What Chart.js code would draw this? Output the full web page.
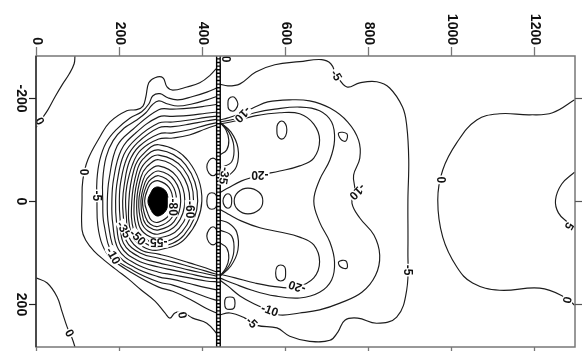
<!DOCTYPE html>
<html>
<head>
<meta charset="utf-8">
<script src="https://cdn.jsdelivr.net/npm/chart.js@4.4.0/dist/chart.umd.min.js"></script>
<style>
  html, body { margin: 0; padding: 0; background: #fff; }
  canvas { display: block; }
</style>
</head>
<body>
<canvas id="contour-chart" width="582" height="351"></canvas>
<script>
// axis ticks
const xTicks = [0, 200, 400, 600, 800, 1000, 1200];
const yTicks = [-200, 0, 200];

// hatched barrier line
const barrierX = 440;
const barrierY = [-281, 283];

// contour lines as [x, y]
const zeroUpperLeft = [[94,-281],[92,-266],[80,-246],[63,-225],[46,-202],[29,-177],[14,-159],[0,-142]];
const zeroLowerLeft = [[0,149],[27,159],[51,186],[63,215],[75,244],[87,266],[94,283]];

const sink0 = [[441,-262],[419,-243],[395,-229],[364,-221],[330,-215],[316,-221],[306,-239],[287,-239],[272,-229],[265,-202],[258,-184],[243,-177],[219,-175],[178,-153],[154,-124],[125,-80],[113,-41],[111,0],[111,56],[120,76],[140,97],[168,117],[195,134],[224,152],[253,172],[287,194],[311,217],[323,227],[335,217],[352,215],[378,227],[412,237],[439,260]];
const sink5 = [[441,-221],[412,-211],[376,-202],[342,-196],[318,-200],[299,-208],[282,-204],[272,-188],[255,-173],[227,-161],[193,-138],[169,-113],[154,-80],[147,-41],[147,0],[149,47],[160,85],[181,111],[233,140],[296,167],[330,175],[370,190],[410,208],[441,219]];
const sink10 = [[441,-204],[412,-196],[376,-188],[342,-184],[318,-188],[296,-194],[280,-186],[265,-171],[243,-157],[212,-141],[186,-117],[169,-85],[161,-41],[161,0],[164,45],[187,106],[235,135],[296,157],[330,163],[370,174],[410,186],[441,194]];
const sink15 = [[443,-188],[410,-184],[370,-180],[330,-178],[296,-177],[234,-139],[196,-107],[177,-46],[172,0],[175,47],[193,100],[238,129],[296,147],[330,152],[370,160],[410,168],[441,173]];
const sink20 = [[443,-173],[410,-170],[370,-166],[330,-164],[296,-163],[238,-130],[205,-98],[187,-42],[183,0],[185,43],[199,94],[241,122],[296,138],[330,143],[370,149],[410,155],[443,157]];
const sink25 = [[443,-165],[410,-162],[370,-157],[330,-153],[296,-151],[242,-121],[212,-90],[196,-38],[192,0],[194,39],[205,88],[244,115],[296,128],[330,134],[370,141],[410,148],[443,151]];
const sink30 = [[443,-159],[410,-155],[370,-149],[330,-144],[296,-142],[245,-113],[219,-83],[204,-35],[201,0],[203,36],[211,82],[248,108],[296,120],[330,126],[370,134],[410,141],[443,147]];
const sink35 = [[443,-153],[410,-147],[370,-138],[330,-132],[296,-130],[249,-106],[225,-76],[213,-32],[209,0],[211,33],[217,76],[251,101],[296,111],[330,118],[370,127],[410,136],[443,144]];
const sink40 = [[443,-149],[410,-140],[370,-128],[330,-122],[296,-120],[252,-98],[232,-69],[219,-29],[216,0],[218,30],[224,70],[253,95],[296,103],[330,110],[370,120],[410,130],[443,140]];

// closed rings round the sink
const ring45 = [[400,0],[368,-77],[296,-109],[256,-89],[237,-63],[224,0],[230,64],[257,88],[296,95],[362,71]];
const ring50 = [[390,0],[361,-70],[296,-99],[259,-82],[243,-57],[231,0],[236,58],[260,80],[296,89],[357,66]];
const ring55 = [[380,0],[355,-63],[296,-89],[263,-74],[248,-51],[237,0],[242,52],[263,73],[296,81],[352,60]];
const ring60 = [[371,0],[348,-56],[296,-80],[267,-66],[253,-46],[243,0],[248,46],[267,66],[296,72],[345,53]];
const ring65 = [[359,0],[340,-47],[296,-68],[270,-57],[258,-40],[248,0],[254,41],[270,58],[296,64],[339,46]];
const ring70 = [[349,0],[334,-40],[296,-58],[274,-49],[263,-36],[253,0],[259,36],[273,51],[296,56],[333,40]];
const ring75 = [[339,0],[327,-33],[296,-49],[277,-42],[267,-31],[257,0],[264,31],[276,45],[296,49],[327,33]];
const ring80 = [[330,0],[321,-26],[296,-39],[280,-36],[271,-26],[262,0],[270,25],[279,38],[296,41],[321,27]];
const sinkCore = [[320,0],[313,-19],[296,-27],[285,-25],[279,-19],[270,0],[278,18],[285,26],[296,29],[313,19]];

// right of the barrier
const right5 = [[441,-227],[463,-223],[492,-227],[530,-250],[576,-264],[636,-270],[689,-274],[711,-266],[725,-244],[750,-221],[781,-229],[822,-231],[853,-219],[884,-182],[894,-147],[899,-80],[897,-2],[897,95],[894,173],[870,225],[822,237],[776,227],[745,231],[728,254],[709,270],[660,272],[612,262],[581,246],[533,241],[504,227],[468,217],[441,221]];
const right10 = [[443,-157],[463,-161],[499,-171],[528,-182],[559,-192],[612,-196],[660,-194],[709,-180],[752,-153],[778,-118],[781,-83],[766,-50],[769,-21],[762,4],[781,33],[815,66],[829,105],[819,144],[786,177],[733,198],[684,211],[636,217],[588,221],[559,211],[528,200],[492,184],[463,165],[443,153]];
const right15 = [[443,-153],[480,-159],[528,-171],[576,-178],[636,-182],[684,-175],[713,-153],[720,-118],[709,-80],[684,-41],[670,0],[684,41],[709,80],[720,118],[713,153],[684,177],[636,188],[576,184],[521,173],[480,161],[443,149]];
const right20Upper = [[443,-149],[480,-155],[528,-165],[588,-171],[636,-169],[670,-149],[684,-118],[670,-83],[636,-68],[588,-58],[540,-50],[496,-39],[463,-25],[443,-16]];
const right20Lower = [[443,142],[480,149],[528,159],[588,167],[629,167],[670,149],[684,118],[670,85],[636,70],[588,60],[540,52],[496,39],[463,25],[443,16]];
const fanUp1 = [[443,-153],[458,-138],[465,-118],[460,-99],[443,-89]];
const fanUp2 = [[443,-153],[465,-134],[477,-107],[472,-76],[443,-64]];
const fanUp3 = [[443,-153],[470,-134],[487,-103],[484,-68],[465,-50],[443,-45]];
const fanDown1 = [[443,146],[458,130],[465,111],[460,91],[443,81]];
const fanDown2 = [[443,146],[465,126],[477,99],[472,68],[443,56]];
const fanDown3 = [[443,146],[470,126],[487,95],[484,60],[465,43],[443,37]];
const rightZero = [[1299,-196],[1246,-171],[1191,-167],[1118,-169],[1063,-157],[1015,-113],[981,-60],[969,-2],[981,70],[1015,128],[1053,159],[1118,173],[1215,169],[1275,186],[1299,202]];
const rightFive = [[1299,-56],[1268,-33],[1253,-2],[1260,23],[1282,41],[1299,52]];

// small closed loops
const loopLeftUpper = [[441,-66],[436,-78],[427,-83],[417,-78],[412,-66],[417,-54],[427,-49],[436,-54]];
const loopLeftLower = [[441,68],[436,56],[427,50],[417,56],[412,68],[417,80],[427,85],[436,80]];
const loopLeftMid = [[436,0],[434,-12],[424,-16],[415,-12],[412,0],[415,12],[424,16],[434,12]];
const loopRightSmall = [[472,0],[470,-10],[463,-14],[455,-10],[451,0],[455,10],[463,14],[470,10]];
const loopRightOval = [[547,0],[538,-17],[511,-25],[487,-17],[478,0],[487,17],[511,25],[538,17]];
const ovalUpper = [[605,-138],[602,-149],[593,-155],[583,-149],[581,-138],[583,-126],[593,-120],[602,-126]];
const ovalLower = [[602,140],[600,128],[590,124],[581,128],[578,140],[581,151],[590,155],[600,151]];
const triUpper = [[730,-132],[750,-130],[747,-116],[735,-120]];
const triLower = [[730,118],[747,116],[750,130],[735,128]];
const loopAboveFan = [[487,-188],[482,-198],[475,-202],[465,-198],[463,-188],[465,-178],[475,-174],[482,-178]];
const loopBelowFan = [[480,198],[477,188],[468,186],[458,188],[455,198],[458,208],[468,210],[477,208]];

const contourLines = [zeroUpperLeft, zeroLowerLeft, sink0, sink5, sink10, sink15, sink20, sink25, sink30, sink35, sink40,
  right5, right10, right15, right20Upper, right20Lower, fanUp1, fanUp2, fanUp3, fanDown1, fanDown2, fanDown3, rightZero, rightFive];
const contourLoops = [ring45, ring50, ring55, ring60, ring65, ring70, ring75, ring80,
  loopLeftUpper, loopLeftLower, loopLeftMid, loopRightSmall, loopRightOval, ovalUpper, ovalLower, triUpper, triLower, loopAboveFan, loopBelowFan];

// contour labels (angle in degrees, clockwise)
const contourLabels = [
  {text: '0', x: 10, y: -155, angle: 60},
  {text: '0', x: 82, y: 256, angle: 60},
  {text: '0', x: 116, y: -56, angle: 90},
  {text: '-5', x: 147, y: -10, angle: 90},
  {text: '-35', x: 213, y: 55, angle: 60},
  {text: '-50', x: 246, y: 70, angle: 45},
  {text: '-55', x: 296, y: 81, angle: 180},
  {text: '-10', x: 187, y: 106, angle: 60},
  {text: '-80', x: 330, y: 12, angle: 90},
  {text: '-60', x: 371, y: 17, angle: 90},
  {text: '-35', x: 455, y: -49, angle: 100},
  {text: '-10', x: 499, y: -167, angle: 135},
  {text: '-20', x: 540, y: -50, angle: 180},
  {text: '-5', x: 725, y: -244, angle: 60},
  {text: '-10', x: 776, y: -17, angle: 135},
  {text: '0', x: 978, y: -41, angle: 90},
  {text: '5', x: 1287, y: 49, angle: 120},
  {text: '0', x: 1282, y: 192, angle: 100},
  {text: '-5', x: 897, y: 134, angle: 90},
  {text: '-20', x: 629, y: 167, angle: 200},
  {text: '-10', x: 564, y: 211, angle: 20},
  {text: '-5', x: 521, y: 235, angle: 45},
  {text: '0', x: 354, y: 221, angle: 80},
  {text: '0', x: 458, y: -275, angle: 90}
];

const toXY = pts => pts.map(([x, y]) => ({x, y}));
const lineStyle = {showLine: true, borderColor: '#1c1c1c', borderWidth: 1.15, pointRadius: 0, tension: 0.4, fill: false};

const datasets = [
  {showLine: true, data: toXY([[barrierX, barrierY[0]], [barrierX, barrierY[1]]]), borderColor: '#fff', borderWidth: 2.2, borderDash: [2.2, 1.4], pointRadius: 0, tension: 0},
  {showLine: true, data: toXY([[barrierX, barrierY[0]], [barrierX, barrierY[1]]]), borderColor: '#000', borderWidth: 5, pointRadius: 0, tension: 0},
  {showLine: true, data: toXY([...sinkCore, sinkCore[0]]), borderColor: '#000', backgroundColor: '#000', borderWidth: 1, fill: 'shape', pointRadius: 0, tension: 0.4},
  ...contourLines.map(pts => ({...lineStyle, data: toXY(pts)})),
  ...contourLoops.map(pts => {
    // wrap the ring so every visible piece has neighbours on both sides
    const n = pts.length;
    return {
      ...lineStyle,
      data: toXY([pts[n - 1], ...pts, pts[0], pts[1]]),
      segment: {borderColor: c => (c.p0DataIndex === 0 || c.p0DataIndex === n + 1) ? 'rgba(0,0,0,0)' : undefined}
    };
  })
];

const frame = {
  id: 'frame',
  afterDatasetsDraw(chart) {
    const {ctx, chartArea: a, scales: {x, y}} = chart;
    ctx.save();

    ctx.font = 'bold 12px "Liberation Sans", Arial, sans-serif';
    ctx.textAlign = 'center';
    ctx.textBaseline = 'middle';
    contourLabels.forEach(l => {
      const w = ctx.measureText(l.text).width;
      ctx.save();
      ctx.translate(x.getPixelForValue(l.x), y.getPixelForValue(l.y));
      ctx.rotate(l.angle * Math.PI / 180);
      ctx.fillStyle = '#fff';
      ctx.fillRect(-w / 2 - 1, -5, w + 2, 10);
      ctx.fillStyle = '#111';
      ctx.fillText(l.text, 0, 1);
      ctx.restore();
    });

    const seg = (x1, y1, x2, y2, color, width) => {
      ctx.strokeStyle = color;
      ctx.lineWidth = width;
      ctx.beginPath();
      ctx.moveTo(x1, y1);
      ctx.lineTo(x2, y2);
      ctx.stroke();
    };

    ctx.strokeStyle = '#777';
    ctx.lineWidth = 1.5;
    ctx.strokeRect(a.left, a.top, a.right - a.left, a.bottom - a.top);
    seg(a.left, a.top, a.left, a.bottom, '#222', 1.3);

    ctx.font = 'bold 14px "Liberation Sans", Arial, sans-serif';
    ctx.fillStyle = '#111';
    ctx.textBaseline = 'middle';
    xTicks.forEach(v => {
      const px = Math.round(x.getPixelForValue(v)) + 0.5;
      seg(px, a.top, px, a.top - 9, '#777', 1.3);
      seg(px, a.bottom, px, a.bottom + 8, '#777', 1.3);
      ctx.save();
      ctx.translate(px, a.top - 11);
      ctx.rotate(Math.PI / 2);
      ctx.textAlign = 'right';
      ctx.fillText(String(v), 0, 0);
      ctx.restore();
    });
    yTicks.forEach(v => {
      const py = Math.round(y.getPixelForValue(v)) + 0.5;
      seg(a.left - 7, py, a.left, py, '#222', 1.2);
      seg(a.right, py, a.right + 7, py, '#555', 1.2);
      ctx.save();
      ctx.translate(a.left - 15, py);
      ctx.rotate(Math.PI / 2);
      ctx.textAlign = 'center';
      ctx.fillText(String(v), 0, 0);
      ctx.restore();
    });
    ctx.restore();
  }
};

new Chart(document.getElementById('contour-chart'), {
  type: 'scatter',
  data: {datasets},
  options: {
    responsive: false,
    animation: false,
    events: [],
    layout: {padding: {left: 36, right: 7, top: 56, bottom: 4}},
    plugins: {legend: {display: false}, tooltip: {enabled: false}},
    scales: {
      x: {type: 'linear', min: 0, max: 1300, display: false},
      y: {type: 'linear', min: -281, max: 283, reverse: true, display: false}
    }
  },
  plugins: [frame]
});
</script>
</body>
</html>
